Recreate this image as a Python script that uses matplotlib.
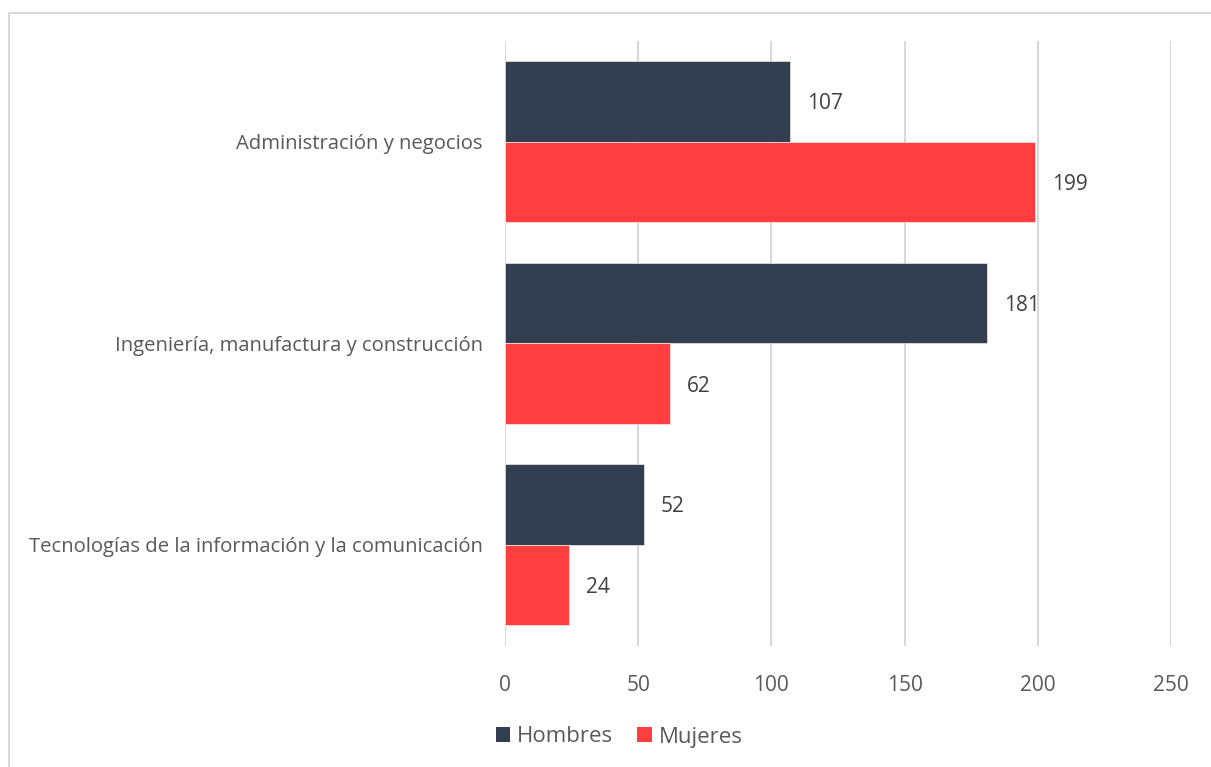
import numpy as np
import matplotlib.pyplot as plt
from matplotlib.patches import Rectangle, Patch

plt.rcParams["font.family"] = ["Open Sans", "DejaVu Sans"]

categorias = [
    "Administración y negocios",
    "Ingeniería, manufactura y construcción",
    "Tecnologías de la información y la comunicación",
]
hombres = [107, 181, 52]
mujeres = [199, 62, 24]
series = ["Hombres", "Mujeres"]
colores = ["#333F50", "#FF3F3F"]
ticks_x = [0, 50, 100, 150, 200, 250]

texto = "#595959"
gris = "#D9D9D9"

fig = plt.figure(figsize=(12.11, 7.67), dpi=100)
ax = fig.add_axes([0.417, 0.1583, 0.550, 0.7882])

# marco exterior del grafico
fig.patches.append(Rectangle((8.5 / 1211, -0.05), 1.2, 1 - 12.5 / 767 + 0.05,
                             transform=fig.transFigure, fill=False,
                             edgecolor=gris, linewidth=1.5))

y = np.arange(len(categorias))
alto = 0.4
for valores, desp, color in [(hombres, -alto / 2, colores[0]), (mujeres, alto / 2, colores[1])]:
    barras = ax.barh(y + desp, valores, height=alto, color=color,
                     edgecolor="white", linewidth=0.4, zorder=3)
    for b, v in zip(barras, valores):
        ax.text(v + 6.3, b.get_y() + b.get_height() / 2 + 0.012, str(v), va="center",
                ha="left", fontsize=15, color="#404040")

ax.set_xlim(0, 250)
ax.set_ylim(2.5, -0.5)
ax.set_xticks(ticks_x)
ax.set_yticks(y)
ax.set_yticklabels(categorias, fontsize=14.6, color=texto)
ax.tick_params(axis="x", labelsize=15, colors=texto, length=0, pad=21)
ax.tick_params(axis="y", length=0, pad=16)
ax.grid(axis="x", color=gris, linewidth=1.5, zorder=0)
for s in ax.spines.values():
    s.set_visible(False)

handles = [Patch(facecolor=c, label=s) for s, c in zip(series, colores)]
fig.legend(handles=handles, loc="center", bbox_to_anchor=(501 / 1211 + 0.0975, 1 - 737 / 767),
           ncol=2, frameon=False, fontsize=16, labelcolor=texto,
           handlelength=0.65, handleheight=0.65, handletextpad=0.3, columnspacing=1.1)

fig.savefig("out.png", dpi=100, facecolor="white")
